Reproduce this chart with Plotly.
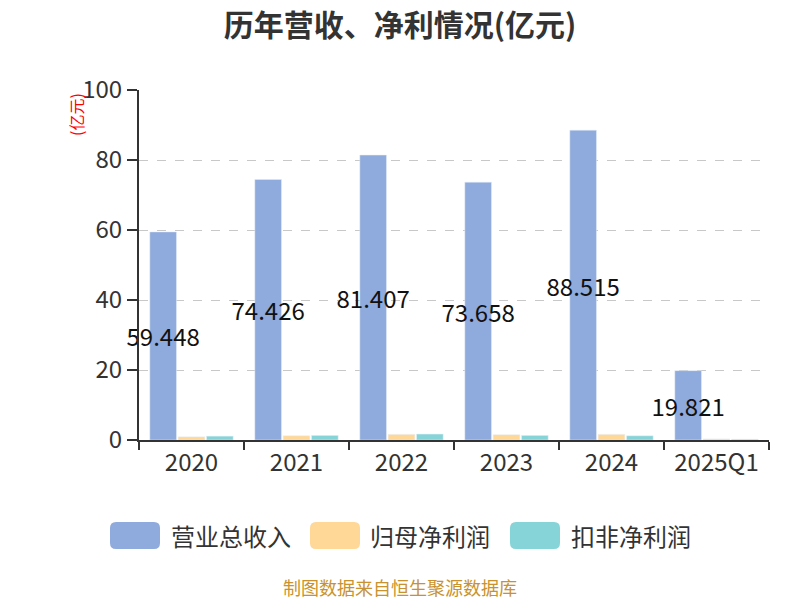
import plotly.graph_objects as go

categories = ["2020", "2021", "2022", "2023", "2024", "2025Q1"]
revenue = [59.448, 74.426, 81.407, 73.658, 88.515, 19.821]
net_profit = [0.9, 1.2, 1.6, 1.5, 1.6, 0.3]
deducted_profit = [1.1, 1.3, 1.7, 1.3, 1.2, 0.2]
series_names = ["营业总收入", "归母净利润", "扣非净利润"]
colors = ["#8FAADC", "#FFD797", "#86D4D7"]
y_ticks = [0, 20, 40, 60, 80, 100]

FONT = "Noto Sans CJK SC"

# plot area in pixels
PL, PR, PT, PB = 139, 769, 90, 440

fig = go.Figure()
fig.add_trace(go.Bar(
    x=categories, y=revenue, name=series_names[0], marker_color=colors[0],
    text=[f"{v:.3f}" for v in revenue], textposition="inside",
    insidetextanchor="middle", textangle=0, constraintext="none",
    textfont=dict(size=24, color="#111111", family=FONT),
    cliponaxis=False, showlegend=False,
))
fig.add_trace(go.Bar(x=categories, y=net_profit, name=series_names[1],
                     marker_color=colors[1], showlegend=False))
fig.add_trace(go.Bar(x=categories, y=deducted_profit, name=series_names[2],
                     marker_color=colors[2], showlegend=False))

fig.update_layout(
    width=800, height=600,
    paper_bgcolor="white", plot_bgcolor="white",
    margin=dict(l=PL, r=800 - PR, t=PT, b=600 - PB),
    barmode="group", bargap=0.19, bargroupgap=0.06,
    font=dict(family=FONT, color="#333333"),
    title=dict(text="<b>历年营收、净利情况(亿元)</b>", x=0.5, xanchor="center",
               y=1 - 25 / 600, yanchor="middle", font=dict(size=30, color="#333333", family=FONT)),
)
fig.update_xaxes(
    type="category", showline=True, linecolor="#333333", linewidth=2,
    ticks="outside", ticklen=8, tickcolor="#333333", tickwidth=2,
    tickson="boundaries", tickfont=dict(size=24, color="#333333"),
    showgrid=False,
)
fig.update_yaxes(
    range=[0, 100], tickvals=y_ticks, showline=True, linecolor="#333333", linewidth=2,
    ticks="outside", ticklen=10, tickcolor="#333333", tickwidth=2,
    tickfont=dict(size=24, color="#333333"),
    showgrid=True, gridcolor="#C8C8C8", griddash="dash", gridwidth=1,
    zeroline=False,
)


def px(xp):
    return (xp - PL) / (PR - PL)


def py(yp):
    return (PB - yp) / (PB - PT)


# Y axis unit label
fig.add_annotation(text="(亿元)", xref="paper", yref="paper", x=px(76), y=py(115),
                   xanchor="center", yanchor="middle",
                   textangle=-90, showarrow=False, font=dict(size=16, color="red"))

# Custom legend
legend_items = [(110, 171), (310, 370), (510, 571)]
for (rx, tx), name, c in zip(legend_items, series_names, colors):
    x0, x1, y0, y1, r = rx, rx + 50, 522, 549, 6
    p = (f"M{px(x0+r)},{py(y0)} L{px(x1-r)},{py(y0)} Q{px(x1)},{py(y0)} {px(x1)},{py(y0+r)} "
         f"L{px(x1)},{py(y1-r)} Q{px(x1)},{py(y1)} {px(x1-r)},{py(y1)} L{px(x0+r)},{py(y1)} "
         f"Q{px(x0)},{py(y1)} {px(x0)},{py(y1-r)} L{px(x0)},{py(y0+r)} Q{px(x0)},{py(y0)} {px(x0+r)},{py(y0)} Z")
    fig.add_shape(type="path", path=p, xref="paper", yref="paper",
                  fillcolor=c, line=dict(width=0))
    fig.add_annotation(text=name, xref="paper", yref="paper", x=px(tx - 2), y=py(535),
                       xanchor="left", yanchor="middle", showarrow=False,
                       font=dict(size=24, color="#333333"))

# Footer
fig.add_annotation(text="制图数据来自恒生聚源数据库", xref="paper", yref="paper",
                   x=px(400), y=py(587), xanchor="center", yanchor="middle",
                   showarrow=False, font=dict(size=18, color="#C9922E"))

fig.write_html("out.html", config={"displayModeBar": False},
               post_script="document.body.style.margin='0px';")
